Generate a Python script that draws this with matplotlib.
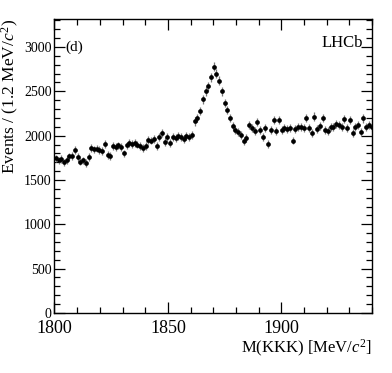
import numpy as np
import matplotlib
matplotlib.use("Agg")
import matplotlib.pyplot as plt
from matplotlib.ticker import MultipleLocator

plt.rcParams['font.family'] = ['Liberation Serif', 'DejaVu Serif']
plt.rcParams['mathtext.fontset'] = 'custom'
plt.rcParams['mathtext.rm'] = 'Liberation Serif'
plt.rcParams['mathtext.it'] = 'Liberation Serif:italic'

bin_width = 1.2
mass_low = 1800.0
counts = [
    1745, 1720, 1735, 1700, 1725, 1765, 1770, 1840, 1760, 1705,
    1720, 1690, 1760, 1860, 1845, 1855, 1840, 1830, 1910, 1780,
    1770, 1880, 1875, 1890, 1870, 1800, 1890, 1915, 1905, 1920,
    1900, 1880, 1860, 1880, 1950, 1945, 1960, 1880, 1990, 2030,
    1930, 1990, 1920, 1990, 1975, 2000, 1985, 1960, 1995, 1980,
    2010, 2160, 2200, 2280, 2410, 2500, 2560, 2660, 2780, 2700,
    2620, 2500, 2370, 2290, 2200, 2110, 2065, 2045, 2010, 1935,
    1970, 2120, 2085, 2050, 2150, 2065, 1990, 2085, 1905, 2065,
    2180, 2050, 2175, 2060, 2085, 2075, 2090, 1945, 2070, 2095,
    2100, 2090, 2200, 2090, 2030, 2215, 2080, 2110, 2200, 2060,
    2050, 2100, 2095, 2130, 2120, 2100, 2185, 2090, 2180, 2030,
    2100, 2120, 2040, 2195, 2100, 2120, 2095,
]
x_ticks = [1800, 1850, 1900]
y_ticks = [0, 500, 1000, 1500, 2000, 2500, 3000]

counts = np.array(counts, dtype=float)
centers = mass_low + bin_width * (np.arange(len(counts)) + 0.5)
errors = np.sqrt(counts)

fig = plt.figure(figsize=(3.92, 3.73), dpi=100)
ax = fig.add_axes([0.139, 0.161, 0.810, 0.789])

ax.errorbar(centers, counts, yerr=errors, fmt='o', color='black', ms=3.4,
            ecolor='#777777', elinewidth=0.9, capsize=0, mew=0)

ax.set_xlim(1800, 1940)
ax.set_ylim(0, 3320)
ax.set_xticks(x_ticks)
ax.set_yticks(y_ticks)
ax.xaxis.set_minor_locator(MultipleLocator(10))
ax.yaxis.set_minor_locator(MultipleLocator(100))
ax.tick_params(which='both', direction='in', top=True, right=True, color='black')
ax.tick_params(which='major', length=8, width=0.9)
ax.tick_params(which='minor', length=4, width=0.9)
ax.tick_params(axis='x', labelsize=13, pad=5)
ax.tick_params(axis='y', labelsize=10, pad=2)
for s in ax.spines.values():
    s.set_linewidth(1.0)

ax.set_xlabel('M(KKK) [MeV/$c^{2}$]', fontsize=12, loc='right', labelpad=1)
ax.set_ylabel('Events / (1.2 MeV/$c^{2}$)', fontsize=12.5, loc='top', labelpad=2)

ax.text(1808.5, 3000, '(d)', fontsize=11, ha='center', va='center')
ax.text(1927, 3040, 'LHCb', fontsize=12, ha='center', va='center')

fig.savefig('out.png', dpi=100)
